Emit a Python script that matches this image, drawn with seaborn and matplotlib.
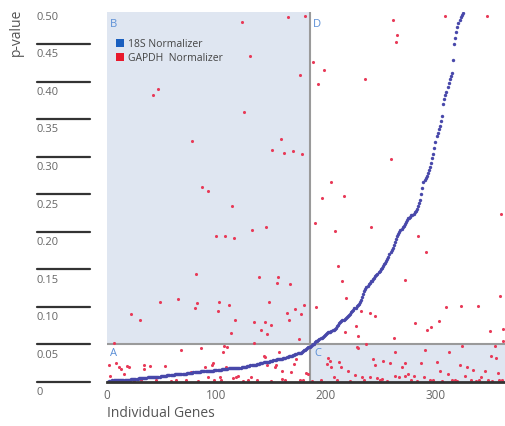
import pandas as pd
import seaborn as sns
import matplotlib.pyplot as plt
from matplotlib.patches import Patch

# 18S normalizer p-values, sorted, one per gene (genes 0..325 lie inside the window)
blue_p = [
    0.000, 0.000, 0.001, 0.001, 0.001, 0.002, 0.002, 0.002, 0.002, 0.002,
    0.002, 0.002, 0.002, 0.003, 0.003, 0.003, 0.003, 0.003, 0.003, 0.003,
    0.003, 0.003, 0.004, 0.004, 0.004, 0.004, 0.004, 0.004, 0.004, 0.005,
    0.005, 0.005, 0.005, 0.005, 0.005, 0.005, 0.005, 0.006, 0.006, 0.006,
    0.006, 0.006, 0.006, 0.006, 0.007, 0.007, 0.007, 0.007, 0.007, 0.008,
    0.008, 0.008, 0.008, 0.008, 0.008, 0.009, 0.009, 0.009, 0.009, 0.009,
    0.009, 0.009, 0.010, 0.010, 0.010, 0.010, 0.010, 0.010, 0.011, 0.011,
    0.011, 0.011, 0.011, 0.012, 0.012, 0.012, 0.012, 0.012, 0.012, 0.013,
    0.013, 0.013, 0.013, 0.013, 0.013, 0.013, 0.014, 0.014, 0.014, 0.014,
    0.014, 0.014, 0.015, 0.015, 0.015, 0.015, 0.015, 0.015, 0.016, 0.016,
    0.016, 0.016, 0.016, 0.016, 0.016, 0.017, 0.017, 0.017, 0.017, 0.017,
    0.017, 0.018, 0.018, 0.018, 0.018, 0.018, 0.018, 0.019, 0.019, 0.019,
    0.019, 0.019, 0.019, 0.020, 0.020, 0.020, 0.020, 0.020, 0.021, 0.021,
    0.021, 0.022, 0.022, 0.022, 0.023, 0.023, 0.023, 0.024, 0.024, 0.024,
    0.025, 0.025, 0.025, 0.026, 0.026, 0.026, 0.027, 0.027, 0.027, 0.028,
    0.028, 0.028, 0.029, 0.029, 0.029, 0.030, 0.030, 0.030, 0.031, 0.031,
    0.031, 0.032, 0.032, 0.032, 0.033, 0.033, 0.034, 0.034, 0.035, 0.035,
    0.036, 0.036, 0.037, 0.037, 0.038, 0.038, 0.039, 0.039, 0.040, 0.041,
    0.042, 0.043, 0.044, 0.045, 0.046, 0.047, 0.048, 0.049, 0.050, 0.051,
    0.053, 0.054, 0.055, 0.056, 0.057, 0.058, 0.059, 0.060, 0.061, 0.063,
    0.064, 0.065, 0.066, 0.067, 0.067, 0.068, 0.069, 0.069, 0.070, 0.072,
    0.074, 0.076, 0.078, 0.080, 0.081, 0.082, 0.083, 0.084, 0.085, 0.086,
    0.088, 0.089, 0.091, 0.093, 0.094, 0.096, 0.098, 0.099, 0.101, 0.102,
    0.104, 0.106, 0.109, 0.113, 0.117, 0.121, 0.124, 0.126, 0.128, 0.130,
    0.132, 0.134, 0.135, 0.137, 0.139, 0.141, 0.143, 0.144, 0.146, 0.148,
    0.150, 0.152, 0.155, 0.157, 0.159, 0.161, 0.164, 0.167, 0.170, 0.173,
    0.176, 0.179, 0.182, 0.186, 0.190, 0.194, 0.197, 0.200, 0.202, 0.204,
    0.206, 0.208, 0.211, 0.213, 0.216, 0.218, 0.219, 0.220, 0.222, 0.223,
    0.224, 0.226, 0.228, 0.231, 0.235, 0.239, 0.242, 0.251, 0.258, 0.266,
    0.269, 0.272, 0.275, 0.279, 0.283, 0.287, 0.292, 0.298, 0.304, 0.312,
    0.320, 0.328, 0.332, 0.337, 0.341, 0.348, 0.355, 0.371, 0.377, 0.382,
    0.387, 0.393, 0.398, 0.404, 0.408, 0.412, 0.429, 0.451, 0.459, 0.467,
    0.473, 0.479, 0.483, 0.486, 0.489, 0.492,
]
blue_gene = list(range(len(blue_p)))

# GAPDH normalizer p-values (only those visible below 0.5)
red_gene = [
    123, 165, 181, 131, 176, 188, 193, 42, 47, 125, 78, 159, 151, 162, 170, 178,
    87, 92, 114, 132, 145, 100, 108, 116, 81, 139, 156, 155, 167, 48, 65, 82, 80,
    102, 111, 101, 148, 180, 172, 164, 177, 22, 30, 117, 134, 144, 150, 166, 141,
    146, 113, 175, 6, 134,
    309, 347, 261, 265, 264, 198, 236, 259, 205, 216, 196, 360, 190, 208, 241,
    284, 291, 211, 215, 272, 218, 359, 191, 310, 323, 339, 232, 240, 245, 281,
    303, 296, 292, 350, 362, 227, 217, 229, 262,
    68, 86, 2, 8, 11, 12.5, 18, 20, 34, 39, 53, 15.5, 3, 34, 77, 89.5, 107, 110,
    106, 143, 144, 157, 97, 95.6, 109, 146, 153, 154, 159.5, 168, 173, 184, 120,
    171, 182, 92.5, 103, 115, 118, 131.5, 159.5, 176,
    228, 229.5, 236.5, 263, 202, 203.7, 212, 213.4, 200.6, 205, 243, 245, 252,
    258.4, 269, 272, 220, 226.5, 233, 240, 247, 251, 263, 267, 272, 207, 324.5,
    354, 362, 290, 312, 351, 355, 287, 301, 322, 328.5, 334.5, 304, 311, 345,
    357, 275, 280, 289.5, 327, 342,
    10, 25, 31, 45, 58, 63, 72, 83, 98, 104, 124, 129, 137, 150, 163, 179, 187,
    195, 210, 222, 235, 249, 256, 278, 283, 295, 298, 306, 315, 318, 320, 332,
    337, 340, 348, 352, 358, 361,
]
red_p = [
    0.480, 0.487, 0.488, 0.434, 0.409, 0.426, 0.397, 0.383, 0.390, 0.360, 0.321,
    0.324, 0.309, 0.305, 0.308, 0.304, 0.260, 0.255, 0.234, 0.203, 0.206, 0.195,
    0.195, 0.192, 0.144, 0.140, 0.140, 0.132, 0.130, 0.107, 0.111, 0.105, 0.099,
    0.106, 0.103, 0.094, 0.107, 0.102, 0.097, 0.092, 0.090, 0.091, 0.083, 0.082,
    0.080, 0.080, 0.076, 0.083, 0.069, 0.064, 0.065, 0.057, 0.052, 0.052,
    0.488, 0.488, 0.482, 0.463, 0.453, 0.416, 0.404, 0.297, 0.267, 0.248, 0.245,
    0.224, 0.212, 0.201, 0.207, 0.195, 0.173, 0.155, 0.134, 0.136, 0.112, 0.114,
    0.100, 0.100, 0.101, 0.101, 0.094, 0.092, 0.088, 0.079, 0.081, 0.073, 0.069,
    0.068, 0.071, 0.075, 0.066, 0.061, 0.059,
    0.043, 0.045, 0.023, 0.025, 0.020, 0.017, 0.021, 0.020, 0.023, 0.021, 0.021,
    0.011, 0.008, 0.017, 0.013, 0.020, 0.048, 0.047, 0.040, 0.035, 0.033, 0.040,
    0.025, 0.022, 0.020, 0.022, 0.020, 0.022, 0.014, 0.013, 0.031, 0.011, 0.008,
    0.024, 0.012, 0.006, 0.006, 0.005, 0.007, 0.006, 0.004, 0.002,
    0.046, 0.045, 0.050, 0.040, 0.032, 0.028, 0.026, 0.020, 0.024, 0.020, 0.031,
    0.023, 0.028, 0.025, 0.020, 0.025, 0.014, 0.009, 0.006, 0.006, 0.005, 0.004,
    0.008, 0.006, 0.008, 0.006, 0.048, 0.048, 0.054, 0.043, 0.040, 0.035, 0.032,
    0.025, 0.027, 0.023, 0.020, 0.016, 0.014, 0.010, 0.015, 0.012, 0.010, 0.008,
    0.007, 0.008, 0.006,
    0.002, 0.001, 0.003, 0.002, 0.001, 0.003, 0.002, 0.001, 0.002, 0.003, 0.001,
    0.002, 0.003, 0.001, 0.002, 0.002, 0.001, 0.003, 0.002, 0.001, 0.002, 0.003,
    0.001, 0.002, 0.001, 0.003, 0.002, 0.001, 0.002, 0.003, 0.001, 0.002, 0.001,
    0.003, 0.002, 0.001, 0.002, 0.002,
]

y_ticks = [0, 0.05, 0.10, 0.15, 0.20, 0.25, 0.30, 0.35, 0.40, 0.45, 0.50]
y_labels = ["0", "0.05", "0.10", "0.15", "0.20", "0.25", "0.30", "0.35", "0.40", "0.45", "0.50"]
x_ticks = [0, 100, 200, 300]

gene_cut = 185
p_cut = 0.05
x_max = 363.5
y_max = 0.493

df_blue = pd.DataFrame({"gene": blue_gene, "p": blue_p})
df_red = pd.DataFrame({"gene": red_gene, "p": red_p})

sns.set_style("white")
plt.rcParams["font.family"] = ["Open Sans", "DejaVu Sans"]

fig = plt.figure(figsize=(5.06, 4.27), dpi=100)
ax = fig.add_axes([107 / 506, 44 / 427, 398 / 506, 370 / 427])

shade = "#dfe6f1"
ax.fill_between([0, gene_cut], p_cut, y_max, color=shade, lw=0, zorder=0)
ax.fill_between([gene_cut, x_max], 0, p_cut, color=shade, lw=0, zorder=0)
ax.axvline(gene_cut, color="#9a9a9a", lw=1.5, zorder=1)
ax.axhline(p_cut, color="#9a9a9a", lw=1.5, zorder=1)

sns.scatterplot(data=df_red, x="gene", y="p", color="#e83a58", s=5, linewidth=0, ax=ax, zorder=3)
sns.scatterplot(data=df_blue, x="gene", y="p", color="#4848aa", s=6, linewidth=0, ax=ax, zorder=4)

ax.set_xlim(0, x_max)
ax.set_ylim(0, y_max)

for side in ["top", "right", "left"]:
    ax.spines[side].set_visible(False)
ax.spines["bottom"].set_color("#333333")
ax.spines["bottom"].set_linewidth(2)
ax.spines["bottom"].set_zorder(5)

ax.set_xticks(x_ticks)
ax.set_xticklabels([str(t) for t in x_ticks])
ax.tick_params(axis="x", length=0, pad=4, labelsize=8.5, labelcolor="#666666")
ax.set_yticks([])
ax.set_xlabel("Individual Genes", loc="left", fontsize=10, color="#555555", labelpad=3)
ax.set_ylabel("")

# long horizontal tick lines left of the plot, labels underneath
ytr = ax.get_yaxis_transform()
for v, lab in zip(y_ticks, y_labels):
    if v < y_max:
        ax.plot([-0.176, -0.043], [v, v], color="#333333", lw=1.6,
                transform=ytr, clip_on=False)
    ax.annotate(lab, xy=(-0.176, v), xycoords=ytr, xytext=(0, -3),
                textcoords="offset points", va="top", ha="left",
                fontsize=8, color="#666666", annotation_clip=False)

fig.text(0.032, 0.925, "p-value", rotation=90, ha="center", va="center",
         fontsize=10, color="#555555")

# quadrant letters
letter_kw = dict(fontsize=8, color="#5b8fd6")
ax.text(3, 0.485, "B", va="top", ha="left", **letter_kw)
ax.text(gene_cut + 3, 0.485, "D", va="top", ha="left", **letter_kw)
ax.text(3, 0.0465, "A", va="top", ha="left", **letter_kw)
ax.text(gene_cut + 4, 0.0465, "C", va="top", ha="left", **letter_kw)

handles = [Patch(facecolor="#1a5fbf", edgecolor="none", label="18S Normalizer"),
           Patch(facecolor="#e8192c", edgecolor="none", label="GAPDH  Normalizer")]
ax.legend(handles=handles, loc="upper left", bbox_to_anchor=(0.012, 0.94),
          frameon=False, fontsize=7.5, handlelength=0.8, handleheight=0.8,
          handletextpad=0.4, labelspacing=0.3, borderaxespad=0, labelcolor="#444444")

fig.savefig("out.png", dpi=100)
